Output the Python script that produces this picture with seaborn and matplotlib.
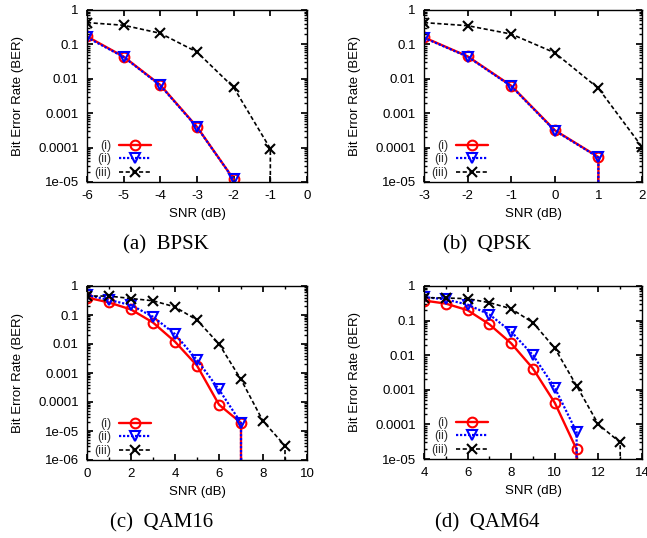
import numpy as np
import pandas as pd
import seaborn as sns
import matplotlib.pyplot as plt
from matplotlib.ticker import FuncFormatter, LogLocator, MultipleLocator

# BER curves; a trailing 0 means "no errors" (drops off the log axis)
labels = ['(i)', '(ii)', '(iii)']

bpsk_snr = [-6, -5, -4, -3, -2]
bpsk_i = [0.17, 0.044, 0.0066, 0.0004, 1.2e-5]
bpsk_ii = [0.16, 0.043, 0.0064, 0.00039, 1.2e-5]
bpsk_iii_snr = [-6, -5, -4, -3, -2, -1, -1]
bpsk_iii = [0.43, 0.36, 0.21, 0.06, 0.0056, 9.3e-5, 0]

qpsk_snr = [-3, -2, -1, 0, 1, 1]
qpsk_i = [0.16, 0.045, 0.0063, 0.00032, 5.3e-5, 0]
qpsk_ii = [0.155, 0.044, 0.0061, 0.00031, 5.2e-5, 0]
qpsk_iii_snr = [-3, -2, -1, 0, 1, 2]
qpsk_iii = [0.43, 0.35, 0.2, 0.057, 0.0053, 1.05e-4]

qam16_snr = [0, 1, 2, 3, 4, 5, 6, 7, 7]
qam16_i = [0.40, 0.27, 0.155, 0.055, 0.012, 0.0018, 8.1e-5, 1.9e-5, 0]
qam16_ii = [0.49, 0.33, 0.22, 0.087, 0.022, 0.0028, 2.7e-4, 1.9e-5, 0]
qam16_iii_snr = [0, 1, 2, 3, 4, 5, 6, 7, 8, 9, 9]
qam16_iii = [0.45, 0.45, 0.37, 0.31, 0.19, 0.067, 0.01, 6e-4, 2.2e-5, 3.1e-6, 0]

qam64_snr = [4, 5, 6, 7, 8, 9, 10, 11, 11]
qam64_i = [0.38, 0.31, 0.2, 0.078, 0.022, 0.0041, 4.2e-4, 1.9e-5, 0]
qam64_ii = [0.48, 0.41, 0.29, 0.15, 0.048, 0.01, 0.00114, 6e-5, 0]
qam64_iii_snr = [4, 5, 6, 7, 8, 9, 10, 11, 12, 13, 13]
qam64_iii = [0.46, 0.45, 0.43, 0.33, 0.22, 0.087, 0.016, 0.0013, 1.0e-4, 3.0e-5, 0]

panels = [
    ('(a)  BPSK', [(bpsk_snr, bpsk_i), (bpsk_snr, bpsk_ii), (bpsk_iii_snr, bpsk_iii)],
     (-6, 0), (1e-5, 1), 1, None),
    ('(b)  QPSK', [(qpsk_snr, qpsk_i), (qpsk_snr, qpsk_ii), (qpsk_iii_snr, qpsk_iii)],
     (-3, 2), (1e-5, 1), 1, None),
    ('(c)  QAM16', [(qam16_snr, qam16_i), (qam16_snr, qam16_ii), (qam16_iii_snr, qam16_iii)],
     (0, 10), (1e-6, 1), 2, 1),
    ('(d)  QAM64', [(qam64_snr, qam64_i), (qam64_snr, qam64_ii), (qam64_iii_snr, qam64_iii)],
     (4, 14), (1e-5, 1), 2, 1),
]

sns.set_theme(style='ticks', rc={
    'xtick.direction': 'in', 'ytick.direction': 'in',
    'xtick.top': True, 'ytick.right': True,
    'xtick.major.size': 4.5, 'ytick.major.size': 4.5,
    'xtick.minor.size': 2.5, 'ytick.minor.size': 2.5,
    'axes.linewidth': 1.0, 'axes.edgecolor': 'black',
    'xtick.color': 'black', 'ytick.color': 'black',
    'axes.labelcolor': 'black', 'text.color': 'black',
    'axes.unicode_minus': False,
})
plt.rcParams['font.family'] = ['Liberation Sans', 'DejaVu Sans']

colors = ['#ff0000', '#0000ff', '#000000']
markers = ['o', 'v', 'x']
dash_styles = [(None, None), (1, 0.8), (2.5, 1.5)]
lws = [1.7, 1.6, 1.2]
msizes = [7, 6.5, 7]

W, H = 647, 538
fig = plt.figure(figsize=(W / 100, H / 100), dpi=100)

# pixel boxes: left, top, right, bottom
boxes = [(87, 10, 307, 182), (424, 10, 642, 182),
         (87, 286, 307, 460), (424, 286, 642, 459)]
cap_pos = [(166, 245), (487, 245), (162, 523), (487, 523)]

for (title, series, xlim, ylim, xmaj, xmin), (l, t, r, b), (cx, cy) in zip(panels, boxes, cap_pos):
    ax = fig.add_axes([l / W, 1 - b / H, (r - l) / W, (b - t) / H])
    for k, (xs, ys) in enumerate(series):
        line_kws = dict(color=colors[k], linewidth=lws[k], marker=markers[k],
                        markersize=msizes[k], markerfacecolor='none',
                        markeredgecolor=colors[k], markeredgewidth=1.5)
        if k > 0:
            line_kws['dashes'] = dash_styles[k]
        sns.lineplot(x=xs, y=ys, ax=ax, estimator=None, sort=False,
                     label=labels[k], **line_kws)
    ax.set_yscale('log')
    ax.set_xlim(*xlim)
    ax.set_ylim(*ylim)
    ax.xaxis.set_major_locator(MultipleLocator(xmaj))
    if xmin:
        ax.xaxis.set_minor_locator(MultipleLocator(xmin))
    ax.yaxis.set_major_locator(LogLocator(base=10, numticks=20))
    ax.yaxis.set_minor_locator(LogLocator(base=10, subs=np.arange(2, 10), numticks=100))
    ax.yaxis.set_major_formatter(FuncFormatter(lambda v, p: '%g' % v))
    ax.yaxis.set_minor_formatter(FuncFormatter(lambda v, p: ''))
    ax.tick_params(axis='both', labelsize=9.5)
    ax.tick_params(axis='y', pad=6)
    ax.tick_params(axis='x', pad=6)
    ax.set_xlabel('SNR (dB)', fontsize=9.5, labelpad=4)
    ax.set_ylabel('Bit Error Rate (BER)', fontsize=9.5, labelpad=10)
    leg = ax.legend(loc='lower left', bbox_to_anchor=(0.02, 0.0), frameon=False,
                    markerfirst=False, fontsize=9, handlelength=2.6,
                    labelspacing=0.12, borderaxespad=0.0, borderpad=0.25,
                    handletextpad=0.6)
    for txt in leg.get_texts():
        txt.set_ha('right')
        txt.set_color('#333333')
    fig.text(cx / W, 1 - cy / H, title, ha='center', va='center',
             fontsize=15, family=['Liberation Serif', 'DejaVu Serif'])

fig.savefig('out.png', dpi=100)
